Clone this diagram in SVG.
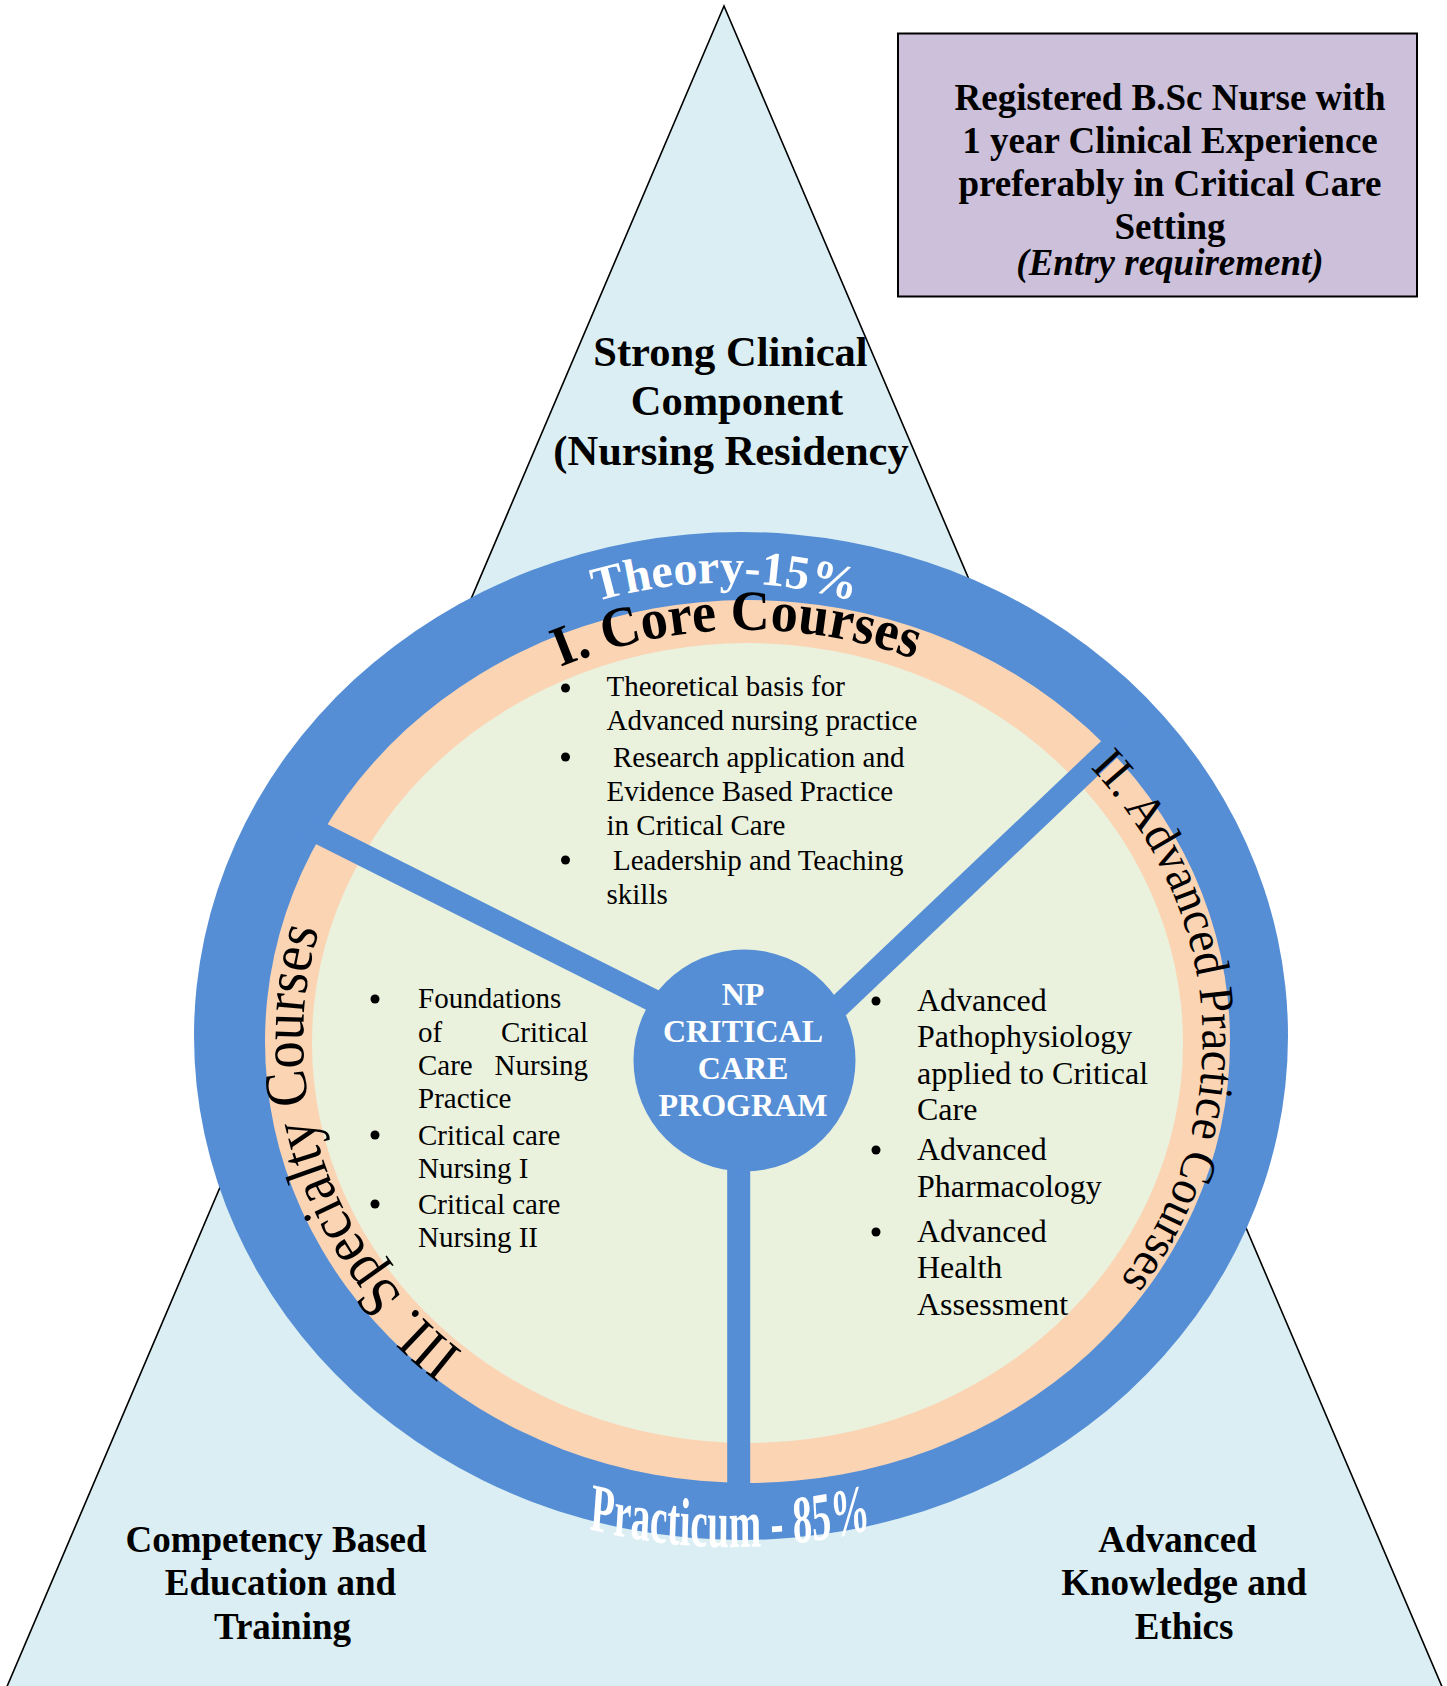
<svg xmlns="http://www.w3.org/2000/svg" xmlns:xlink="http://www.w3.org/1999/xlink" width="1447" height="1686" viewBox="0 0 1447 1686">
  <style>
    .tri{fill:#DAEEF3;stroke:#000;stroke-width:1.6}
    .blue{fill:#558ED5}
    .peach{fill:#FBD4B4}
    .green{fill:#EAF1DD}
    .spoke{stroke:#558ED5;stroke-width:23;fill:none}
    .box{fill:#CCC0DA;stroke:#000;stroke-width:2}
    .serif{font-family:"Liberation Serif","Times New Roman",serif}
    .bold{font-weight:bold}
    .head{font-size:42.5px;font-weight:bold;text-anchor:middle;fill:#000}
    .corner{font-size:37px;font-weight:bold;text-anchor:middle;fill:#000}
    .entry{font-size:37px;font-weight:bold;text-anchor:middle;fill:#000}
    .list{font-size:29px;fill:#000}
    .list2{font-size:32px;fill:#000}
    .dot{fill:#000}
    .hub{font-size:32px;font-weight:bold;text-anchor:middle;fill:#fff}
    .arc{fill:#000}
  </style>
  <defs>
    <!-- baselines for the curved labels -->
    <path id="theoryArc" d="M 432.5 689.4 A 455 455 0 0 1 1017.5 689.4"/>
    <path id="coreArc" d="M 352 845.1 A 450 411.5 0 0 1 1131.2 826.5"/>
    <path id="advArc" d="M 954.1 670.8 A 455 416 0 0 1 995.3 1390.4"/>
    <path id="specArc" d="M 652 1438 A 447.5 410 0 0 1 428 754"/>
    <!-- local (scaled) coordinates: x/0.97, y/1.7 -->
    <path id="pracArc" d="M 577.3 894.7 Q 752.6 925.3 927.8 894.7"/>
  </defs>

  <!-- background triangle -->
  <g id="triangle">
    <polygon class="tri" points="724,6 1452,1710 -3,1710"/>
  </g>

  <!-- entry requirement box -->
  <g id="entry">
    <rect class="box" x="898" y="33.5" width="519" height="263"/>
    <text class="serif entry" x="1170" y="110">Registered B.Sc Nurse with</text>
    <text class="serif entry" x="1170" y="153">1 year Clinical Experience</text>
    <text class="serif entry" x="1170" y="196">preferably in Critical Care</text>
    <text class="serif entry" x="1170" y="239">Setting</text>
    <text class="serif entry" x="1170" y="275" font-style="italic" font-size="31.5">(Entry requirement)</text>
  </g>

  <!-- triangle corner labels -->
  <g id="clinical">
    <text class="serif head" x="730.5" y="365.5">Strong Clinical</text>
    <text class="serif head" x="737" y="415">Component</text>
    <text class="serif head" x="731" y="464.5">(Nursing Residency</text>
  </g>
  <g id="competency">
    <text class="serif corner" x="276" y="1552">Competency Based</text>
    <text class="serif corner" x="280.5" y="1595">Education and</text>
    <text class="serif corner" x="282.5" y="1639">Training</text>
  </g>
  <g id="knowledge">
    <text class="serif corner" x="1177.5" y="1552">Advanced</text>
    <text class="serif corner" x="1184" y="1595">Knowledge and</text>
    <text class="serif corner" x="1184" y="1639">Ethics</text>
  </g>

  <!-- program wheel -->
  <g id="wheel">
    <ellipse class="blue" cx="741" cy="1036" rx="547" ry="504"/>
    <ellipse class="peach" cx="747.5" cy="1041.5" rx="482.5" ry="441.5"/>
    <ellipse class="green" cx="747.5" cy="1043" rx="435.5" ry="400"/>
  </g>

  <!-- spokes dividing the course areas -->
  <g id="connectors">
    <line class="spoke" x1="744" y1="1046" x2="300" y2="823.3"/>
    <line class="spoke" x1="744.5" y1="1095.7" x2="1130" y2="729.5"/>
    <line class="spoke" x1="738.7" y1="1060" x2="738.7" y2="1495"/>
  </g>

  <g id="hub">
    <circle class="blue" cx="744.5" cy="1060.5" r="111"/>
    <text class="serif hub" x="743" y="1005">NP</text>
    <text class="serif hub" x="743" y="1042">CRITICAL</text>
    <text class="serif hub" x="743" y="1078.5">CARE</text>
    <text class="serif hub" x="743" y="1116">PROGRAM</text>
  </g>

  <!-- ring labels -->
  <g id="theory">
    <text class="serif bold" font-size="48" fill="#fff"><textPath xlink:href="#theoryArc" startOffset="50%" text-anchor="middle">Theory-15%</textPath></text>
  </g>
  <g id="practicum">
    <text transform="scale(0.97,1.7)" class="serif bold" font-size="40" fill="#fff"><textPath xlink:href="#pracArc" startOffset="50%" text-anchor="middle">Practicum - 85%</textPath></text>
  </g>

  <g id="core">
    <text class="serif bold arc" font-size="57"><textPath xlink:href="#coreArc" startOffset="50%" text-anchor="middle" textLength="362" lengthAdjust="spacingAndGlyphs">I. Core Courses</textPath></text>
    <circle class="dot" cx="565.5" cy="688" r="4.5"/>
    <circle class="dot" cx="565.5" cy="757" r="4.5"/>
    <circle class="dot" cx="565.5" cy="860" r="4.5"/>
    <text class="serif list" x="606.5" y="695.5">Theoretical basis for</text>
    <text class="serif list" x="606.5" y="730">Advanced nursing practice</text>
    <text class="serif list" x="613" y="766.5">Research application and</text>
    <text class="serif list" x="606.5" y="801">Evidence Based Practice</text>
    <text class="serif list" x="606.5" y="835">in Critical Care</text>
    <text class="serif list" x="613" y="870">Leadership and Teaching</text>
    <text class="serif list" x="606.5" y="904">skills</text>
  </g>

  <g id="advanced">
    <text class="serif arc" font-size="49"><textPath xlink:href="#advArc" startOffset="50%" text-anchor="middle" textLength="560" lengthAdjust="spacingAndGlyphs">II. Advanced Practice Courses</textPath></text>
    <circle class="dot" cx="876" cy="1001" r="4.5"/>
    <circle class="dot" cx="876" cy="1150" r="4.5"/>
    <circle class="dot" cx="876" cy="1232" r="4.5"/>
    <text class="serif list2" x="917" y="1010.5">Advanced</text>
    <text class="serif list2" x="917" y="1047">Pathophysiology</text>
    <text class="serif list2" x="917" y="1083.5">applied to Critical</text>
    <text class="serif list2" x="917" y="1120">Care</text>
    <text class="serif list2" x="917" y="1160">Advanced</text>
    <text class="serif list2" x="917" y="1196.5">Pharmacology</text>
    <text class="serif list2" x="917" y="1241.5">Advanced</text>
    <text class="serif list2" x="917" y="1278">Health</text>
    <text class="serif list2" x="917" y="1314.5">Assessment</text>
  </g>

  <g id="specialty">
    <text class="serif arc" font-size="60"><textPath xlink:href="#specArc" startOffset="50%" text-anchor="middle" textLength="475" lengthAdjust="spacingAndGlyphs">III. Specialty Courses</textPath></text>
    <circle class="dot" cx="375" cy="999" r="4.5"/>
    <circle class="dot" cx="375" cy="1135" r="4.5"/>
    <circle class="dot" cx="375" cy="1204" r="4.5"/>
    <text class="serif list" x="418" y="1008">Foundations</text>
    <!-- justified lines: first word at the left margin, last word at the right -->
    <text class="serif list" x="418" y="1041.5">of<tspan x="588" text-anchor="end">Critical</tspan></text>
    <text class="serif list" x="418" y="1075">Care<tspan x="588" text-anchor="end">Nursing</tspan></text>
    <text class="serif list" x="418" y="1108">Practice</text>
    <text class="serif list" x="418" y="1145">Critical care</text>
    <text class="serif list" x="418" y="1178">Nursing I</text>
    <text class="serif list" x="418" y="1213.5">Critical care</text>
    <text class="serif list" x="418" y="1247">Nursing II</text>
  </g>
</svg>
